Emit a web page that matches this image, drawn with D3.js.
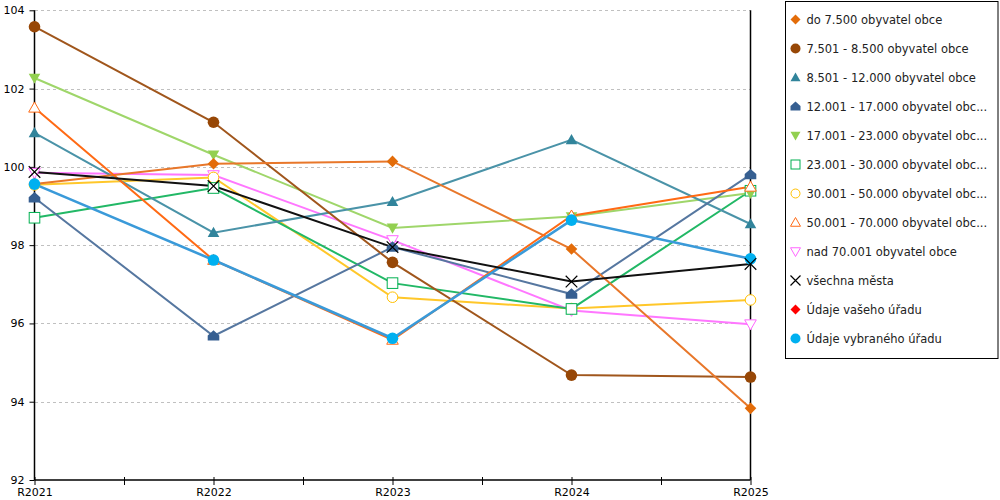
<!DOCTYPE html>
<html>
<head>
<meta charset="utf-8">
<script src="https://cdn.jsdelivr.net/npm/d3@7"></script>
<style>
  body { margin: 0; background: #fff; }
  text { font-family: "DejaVu Sans", Verdana, sans-serif; }
</style>
</head>
<body>
<div id="chart"></div>
<script>
// data
var years = ["R2021", "R2022", "R2023", "R2024", "R2025"];
var yTicks = [92, 94, 96, 98, 100, 102, 104];

var seriesNames = [
  "do 7.500 obyvatel obce",
  "7.501 - 8.500 obyvatel obce",
  "8.501 - 12.000 obyvatel obce",
  "12.001 - 17.000 obyvatel obc...",
  "17.001 - 23.000 obyvatel obc...",
  "23.001 - 30.000 obyvatel obc...",
  "30.001 - 50.000 obyvatel obc...",
  "50.001 - 70.000 obyvatel obc...",
  "nad 70.001 obyvatel obce",
  "všechna města",
  "Údaje vašeho úřadu",
  "Údaje vybraného úřadu"
];

var do7500     = [99.56, 100.08, 100.14, 97.90, 93.83];
var s7501      = [103.58, 101.14, 97.56, 94.68, 94.63];
var s8501      = [100.87, 98.32, 99.11, 100.69, 98.54];
var s12001     = [99.21, 95.68, 97.95, 96.75, 99.80];
var s17001     = [102.27, 100.31, 98.44, 98.73, 99.33];
var s23001     = [98.70, 99.46, 97.03, 96.37, 99.39];
var s30001     = [99.54, 99.73, 96.67, 96.38, 96.60];
var s50001     = [101.51, 97.62, 95.58, 98.75, 99.49];
var nad70001   = [99.85, 99.79, 98.13, 96.33, 95.98];
var vsechna    = [99.87, 99.51, 97.95, 97.07, 97.52];
var vaseho     = [];
var vybraneho  = [99.56, 97.62, 95.62, 98.64, 97.65];

var seriesValues = [do7500, s7501, s8501, s12001, s17001, s23001, s30001, s50001, nad70001, vsechna, vaseho, vybraneho];

// styles
var colors = ["#e36c09", "#974706", "#31849b", "#365f91", "#92d050", "#00b050", "#ffc000", "#ff6a14", "#ff66ff", "#000000", "#ff0000", "#00b0f0"];
var lineColors = ["#e8772a", "#a0561c", "#4a93a8", "#5677a0", "#9fd66a", "#22b866", "#ffc72a", "#ff6a14", "#ff77ff", "#111111", "#ff0000", "#3a9ad9"];
var shapes = ["diamond", "circle", "triangle", "house", "triangleDown", "square", "circleOpen", "triangleOpen", "triangleDownOpen", "cross", "diamond", "circle"];
var drawOrder = [8, 6, 5, 4, 2, 3, 1, 0, 7, 11, 9, 10];

var axisFont = "'DejaVu Sans Condensed', 'DejaVu Sans', sans-serif";

var svgWidth = 1000;
var svgHeight = 500;

var svg = d3.select("#chart")
  .append("svg")
  .attr("width", svgWidth)
  .attr("height", svgHeight);

var x = d3.scalePoint()
  .domain(years)
  .range([34.5, 750.5]);

var y = d3.scaleLinear()
  .domain([92, 104])
  .range([480, 10.3]);

// grid
svg.append("g")
  .selectAll("line")
  .data(yTicks.filter(d => d > 92))
  .enter()
  .append("line")
  .attr("x1", 35)
  .attr("x2", 750)
  .attr("y1", d => Math.round(y(d)) + 0.5)
  .attr("y2", d => Math.round(y(d)) + 0.5)
  .attr("stroke", "#c0c0c0")
  .attr("stroke-dasharray", "3,3");

// right frame line
svg.append("line")
  .attr("x1", 750.5).attr("x2", 750.5)
  .attr("y1", y(104)).attr("y2", 480)
  .attr("stroke", "#000").attr("stroke-width", 1.5);

// y axis
var leftAxis = d3.axisLeft(y).tickValues(yTicks).tickSize(5).tickPadding(5);
var gy = svg.append("g")
  .attr("transform", "translate(34.5,0)")
  .call(leftAxis);
gy.select(".domain").attr("stroke-width", 1.5).attr("d", "M0," + y(104) + "V480");
gy.selectAll("text").attr("font-size", "11px").attr("fill", "#000")
  .attr("font-family", axisFont);

// x axis
var bottomAxis = d3.axisBottom(x).tickSize(5).tickPadding(3);
var gx = svg.append("g")
  .attr("transform", "translate(0,480)")
  .call(bottomAxis);
gx.select(".domain").attr("stroke-width", 1.5).attr("d", "M34.5,0H750.5");
gx.selectAll(".tick line").attr("y1", -3).attr("y2", 5);
gx.selectAll("text").attr("font-size", "11px").attr("fill", "#000")
  .attr("font-family", axisFont);

// minor ticks between categories
var mids = years.slice(1).map((d, i) => (x(years[i]) + x(d)) / 2);
gx.selectAll(".minor")
  .data(mids)
  .enter()
  .append("line")
  .attr("x1", d => Math.round(d) + 0.5)
  .attr("x2", d => Math.round(d) + 0.5)
  .attr("y1", -3)
  .attr("y2", 5)
  .attr("stroke", "#000");

// marker drawing
function drawMarker(g, shape, color, size) {
  var s = size;
  switch (shape) {
    case "diamond":
      g.append("path").attr("d", `M0,${-s}L${s},0L0,${s}L${-s},0Z`).attr("fill", color);
      break;
    case "circle":
      g.append("circle").attr("r", s).attr("fill", color);
      break;
    case "circleOpen":
      g.append("circle").attr("r", s - 0.5).attr("fill", "#fff").attr("stroke", color).attr("stroke-width", 1);
      break;
    case "triangle":
      g.append("path").attr("d", `M0,${-s}L${s},${s * 0.75}L${-s},${s * 0.75}Z`).attr("fill", color);
      break;
    case "triangleOpen":
      g.append("path").attr("d", `M0,${-s}L${s},${s * 0.75}L${-s},${s * 0.75}Z`).attr("fill", "#fff").attr("stroke", color);
      break;
    case "triangleDown":
      g.append("path").attr("d", `M0,${s}L${s},${-s * 0.75}L${-s},${-s * 0.75}Z`).attr("fill", color);
      break;
    case "triangleDownOpen":
      g.append("path").attr("d", `M0,${s}L${s},${-s * 0.75}L${-s},${-s * 0.75}Z`).attr("fill", "#fff").attr("stroke", color);
      break;
    case "house":
      g.append("path").attr("d", `M0,${-s}L${s},${-s * 0.1}L${s},${s * 0.8}L${-s},${s * 0.8}L${-s},${-s * 0.1}Z`).attr("fill", color);
      break;
    case "square":
      g.append("rect").attr("x", -s + 0.5).attr("y", -s + 0.5).attr("width", 2 * s - 1).attr("height", 2 * s - 1)
        .attr("fill", "#fff").attr("stroke", color);
      break;
    case "cross":
      g.append("path").attr("d", `M${-s},${-s}L${s},${s}M${s},${-s}L${-s},${s}`).attr("stroke", color).attr("stroke-width", 1.2);
      break;
  }
}

var line = d3.line()
  .x((d, i) => x(years[i]))
  .y(d => y(d));

var plot = svg.append("g");

// lines
drawOrder.forEach(function(k) {
  var vals = seriesValues[k];
  if (!vals.length) return;
  plot.append("path")
    .datum(vals)
    .attr("d", line)
    .attr("fill", "none")
    .attr("stroke", lineColors[k])
    .attr("stroke-width", k === 11 ? 2.6 : 2);
});

// markers
drawOrder.forEach(function(k) {
  var vals = seriesValues[k];
  vals.forEach(function(v, i) {
    var g = plot.append("g").attr("transform", `translate(${x(years[i])},${y(v)})`);
    drawMarker(g, shapes[k], colors[k], 5.8);
  });
});

// legend
var legend = svg.append("g").attr("transform", "translate(785.5,1.5)");
legend.append("rect")
  .attr("width", 212.5)
  .attr("height", 357)
  .attr("fill", "#fff")
  .attr("stroke", "#000");

seriesNames.forEach(function(name, k) {
  var yy = 18 + k * 29;
  var g = legend.append("g").attr("transform", `translate(10,${yy})`);
  drawMarker(g, shapes[k], colors[k], 5);
  legend.append("text")
    .attr("x", 21)
    .attr("y", yy)
    .attr("dy", "0.35em")
    .attr("font-size", "11.5px")
    .attr("fill", "#222")
    .text(name);
});
</script>
</body>
</html>
